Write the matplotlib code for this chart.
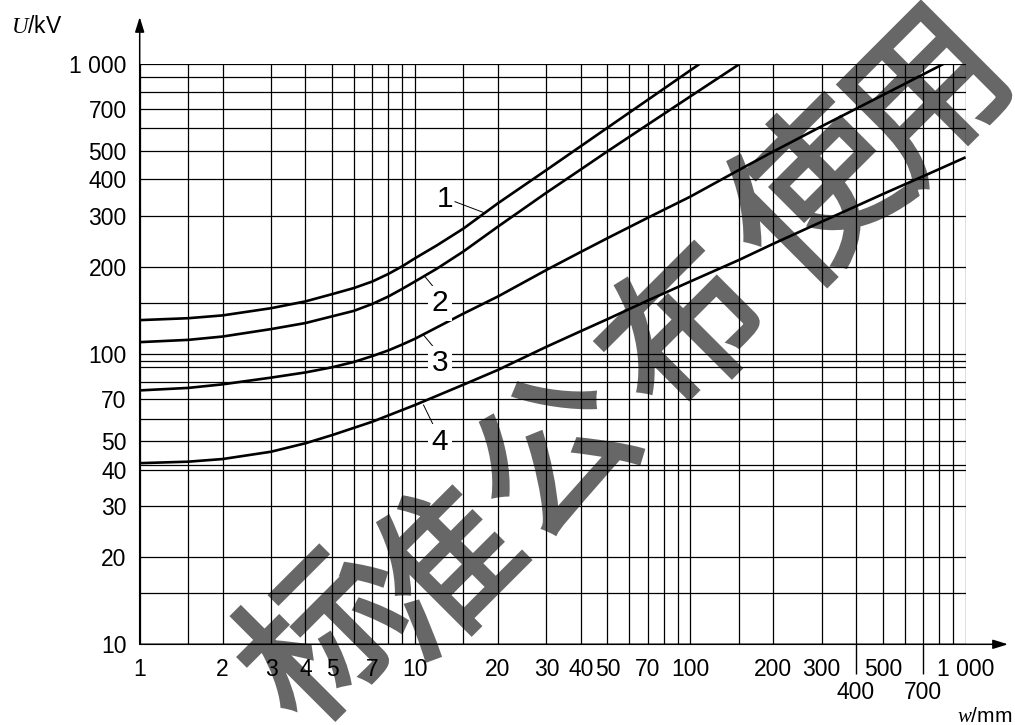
import matplotlib
matplotlib.use("Agg")
import matplotlib.pyplot as plt
import matplotlib.patheffects as pe
from matplotlib.ticker import NullLocator

plt.rcParams['font.family'] = ['Liberation Sans', 'DejaVu Sans']
plt.rcParams['mathtext.fontset'] = 'custom'
plt.rcParams['mathtext.it'] = 'Liberation Serif:italic'
plt.rcParams['mathtext.rm'] = 'Liberation Sans'

# ---------------- data ----------------
w1 = [1, 1.5, 2, 3, 4, 5, 6, 7, 8, 9, 10, 12, 15, 20, 30, 50, 70, 108]
u1 = [131, 133, 136, 144, 152, 161, 169, 178, 189, 201, 214, 237, 271, 331, 431, 603, 752, 1000]

w2 = [1, 1.5, 2, 3, 4, 5, 6, 7, 8, 9, 10, 12, 15, 20, 30, 40, 50, 70, 100, 151]
u2 = [110, 112, 115, 122, 128, 135, 141, 149, 158, 168, 178, 197, 226, 275, 360, 433, 500, 618, 773, 1000]

w3 = [1, 1.5, 2, 3, 4, 5, 6, 7, 8, 9, 10, 15, 20, 30, 40, 50, 70, 100, 150, 200, 300, 500, 830]
u3 = [75, 76.5, 78.7, 83, 86.5, 90.1, 94, 98.5, 103, 108, 113, 138, 158, 195, 225, 251, 295, 349, 431, 499, 610, 781, 1000]

w4 = [1, 1.5, 2, 3, 4, 5, 7, 10, 15, 20, 30, 40, 50, 70, 100, 150, 200, 300, 500, 700, 1000]
u4 = [42.1, 42.6, 43.5, 46.1, 49.3, 52.6, 58.5, 66.8, 78.5, 88.2, 106, 120, 132, 153, 178, 211, 240, 286, 356, 410, 477]

curve_names = ['1', '2', '3', '4']

x_ticks = [1, 2, 3, 4, 5, 7, 10, 20, 30, 40, 50, 70, 100, 200, 300, 500, 1000]
x_ticklabels = ['1', '2', '3', '4', '5', '7', '10', '20', '30', '40', '50', '70', '100',
                '200', '300', '500', '1 000']
x_ticks2 = [400, 700]
x_ticklabels2 = ['400', '700']

y_ticks = [10, 20, 30, 40, 50, 70, 100, 200, 300, 400, 500, 700, 1000]
y_ticklabels = ['10', '20', '30', '40', '50', '70', '100', '200', '300', '400', '500',
                '700', '1 000']

grid_mantissa = [1, 1.5, 2, 3, 4, 5, 6, 7, 8, 9]
y_grid_extra = [41.5, 95]

watermark_chars = ['标', '准', '公', '布', '使', '用']

# ---------------- figure ----------------
W, H = 1015, 725
fig = plt.figure(figsize=(W / 100, H / 100), dpi=100)
x0, x1p, y0, y1p = 139.7, 965.6, 644.3, 64.0
ax = fig.add_axes([x0 / W, 1 - y0 / H, (x1p - x0) / W, (y0 - y1p) / H])
ax.set_xscale('log')
ax.set_yscale('log')
ax.set_xlim(1, 1000)
ax.set_ylim(10, 1000)
for s in ax.spines.values():
    s.set_visible(False)

# watermark (below grid)
wm_color = '#676767'
wm_pos = [(328, 645), (446, 578), (560, 462), (690, 337), (822, 202), (932, 100)]
wm_size = [114, 114, 114, 114, 122, 114]
for ch, (px, py), fs in zip(watermark_chars, wm_pos, wm_size):
    ax.text(px / W, 1 - py / H, ch, transform=fig.transFigure, fontsize=fs,
            family=['Noto Sans CJK SC'], weight='normal', color=wm_color,
            rotation=45, ha='center', va='center', rotation_mode='anchor',
            clip_on=False, zorder=0.3,
            path_effects=[pe.Stroke(linewidth=3.0, foreground=wm_color, joinstyle='miter'),
                          pe.Normal()])

# grid
x_grid = [m * 10 ** d for d in range(3) for m in grid_mantissa] + [1000]
y_grid = [m * 10 ** d for d in range(1, 3) for m in grid_mantissa] + [1000] + y_grid_extra
for xv in x_grid:
    ax.axvline(xv, color='black', lw=0.9, zorder=1)
for yv in y_grid:
    ax.axhline(yv, color='black', lw=0.9, zorder=1)

# curves
for w, u in [(w1, u1), (w2, u2), (w3, u3), (w4, u4)]:
    ax.plot(w, u, color='black', lw=1.9, zorder=3, solid_capstyle='butt',
            solid_joinstyle='round')

# curve labels + leaders
lab_spec = [
    ('1', (12.85, 342), (13.97, 335.3), (17.7, 308), False),
    ('2', (12.32, 149.7), (11.65, 170.8), (10.87, 185), True),
    ('3', (12.32, 93), (11.65, 106.1), (10.74, 116.4), True),
    ('4', (12.32, 49.9), (11.65, 57), (10.74, 66.8), True),
]
for name, tp, a, b, boxed in lab_spec:
    ax.plot([a[0], b[0]], [a[1], b[1]], color='black', lw=0.7, zorder=4)
    kw = {}
    if boxed:
        kw['bbox'] = dict(boxstyle='square,pad=0.12', fc='white', ec='none')
    ax.text(tp[0], tp[1], name, fontsize=21.5, ha='center', va='center', zorder=5, **kw)

# ticks
ax.set_xticks(x_ticks, x_ticklabels)
ax.set_yticks(y_ticks, y_ticklabels)
ax.set_xticks(x_ticks2, x_ticklabels2, minor=True)
ax.yaxis.set_minor_locator(NullLocator())
ax.tick_params(axis='both', which='major', length=0, labelsize=16.5)
ax.tick_params(axis='x', which='major', pad=10)
ax.tick_params(axis='y', which='major', pad=9.5)
ax.tick_params(axis='x', which='minor', length=21.5, width=1.0, direction='out',
               labelsize=16.5, pad=5, color='black')

# axis arrows
ax.annotate('', xy=(0, 1.081), xytext=(0, 0), xycoords='axes fraction',
            arrowprops=dict(arrowstyle='-|>,head_length=0.9,head_width=0.28',
                            color='black', lw=1.1, shrinkA=0, shrinkB=0), zorder=6)
ax.annotate('', xy=(1.0513, 0), xytext=(0, 0), xycoords='axes fraction',
            arrowprops=dict(arrowstyle='-|>,head_length=0.9,head_width=0.28',
                            color='black', lw=1.1, shrinkA=0, shrinkB=0), zorder=6)

# axis titles
fig.text(11 / W, 1 - 33.3 / H, r'$U$/kV', fontsize=16.5, ha='left', va='baseline')
fig.text(1012 / W, 1 - 721.5 / H, r'$w$/mm', fontsize=15, ha='right', va='baseline')

fig.savefig('out.png', dpi=100)
